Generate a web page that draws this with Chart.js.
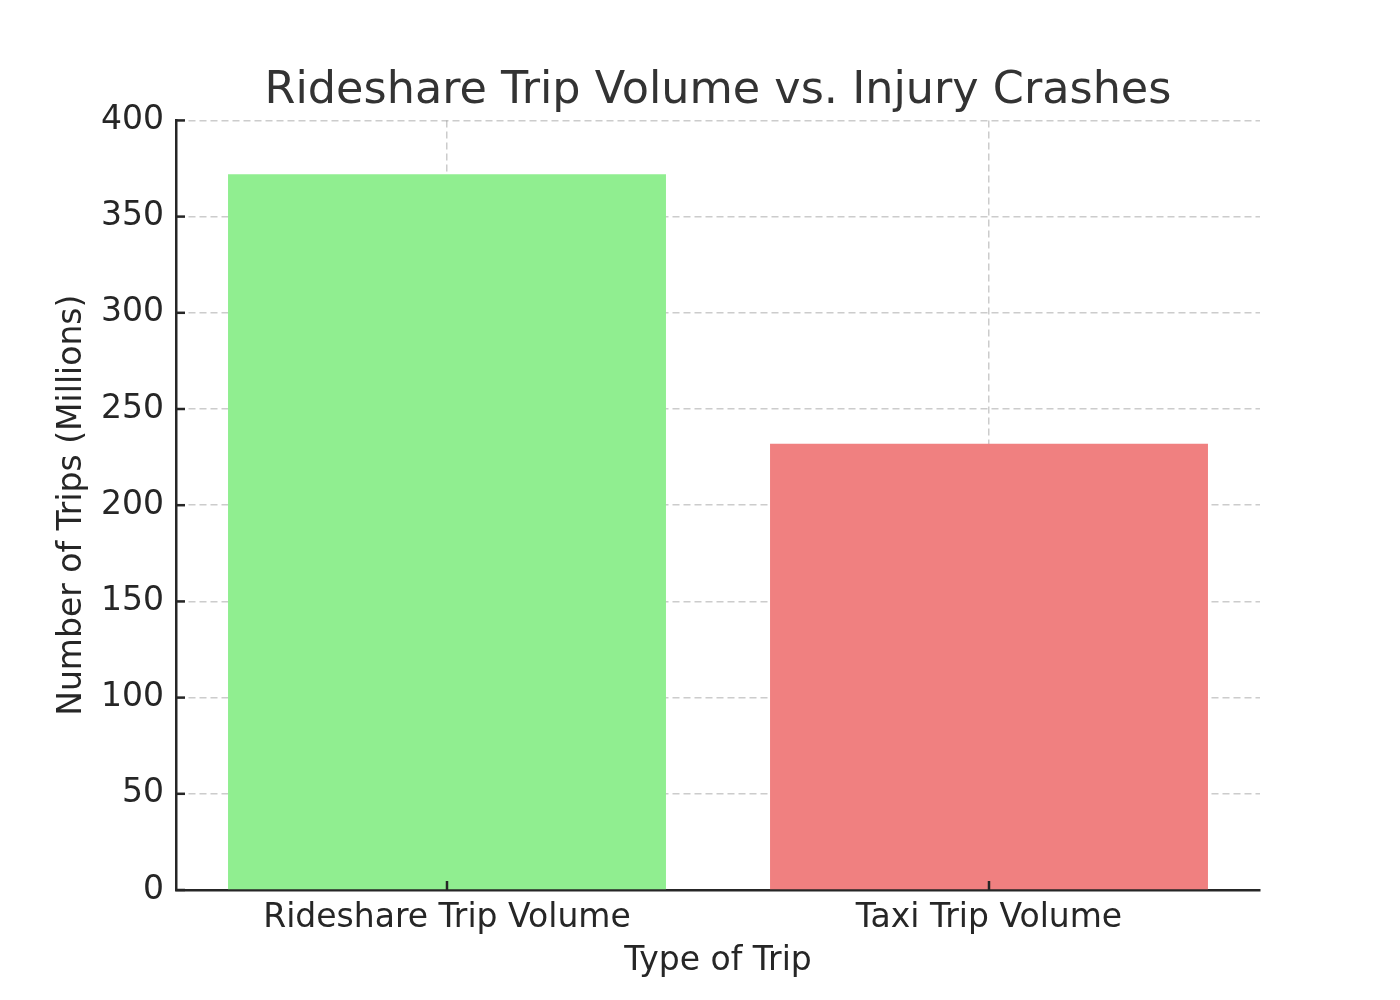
<!DOCTYPE html>
<html>
<head>
<meta charset="utf-8">
<script src="https://cdn.jsdelivr.net/npm/chart.js@4"></script>
<style>
    body { margin: 0; background: #fff; }
    #chartBox { width: 1400px; height: 1000px; }
</style>
</head>
<body>
<div id="chartBox"><canvas id="tripChart" width="1400" height="1000"></canvas></div>
<script>
// Chart data
const tripTypes = ['Rideshare Trip Volume', 'Taxi Trip Volume'];
const tripVolumes = [372, 232]; // millions
const barColors = ['#90EE90', '#F08080'];

const textColor = '#262626';
const gridColor = 'rgba(128, 128, 128, 0.4)';
const fontFamily = 'DejaVu Sans';

// Draw short tick marks pointing into the plot area (like the original)
const innerTicks = {
    id: 'innerTicks',
    afterDraw(chart) {
        const c = chart.ctx;
        const area = chart.chartArea;
        const len = 9;
        c.save();
        c.strokeStyle = textColor;
        c.lineWidth = 2.5;
        c.setLineDash([]);
        const xScale = chart.scales.x;
        xScale.ticks.forEach((t, i) => {
            const px = xScale.getPixelForTick(i);
            c.beginPath();
            c.moveTo(px, area.bottom);
            c.lineTo(px, area.bottom - len);
            c.stroke();
        });
        const yScale = chart.scales.y;
        yScale.ticks.forEach((t, i) => {
            const py = yScale.getPixelForTick(i);
            c.beginPath();
            c.moveTo(area.left, py);
            c.lineTo(area.left + len, py);
            c.stroke();
        });
        c.restore();
    }
};

const ctx = document.querySelector('#tripChart').getContext('2d');

new Chart(ctx, {
    type: 'bar',
    data: {
        labels: tripTypes,
        datasets: [{
            data: tripVolumes,
            backgroundColor: barColors,
            borderWidth: 0,
            barPercentage: 0.808,
            categoryPercentage: 1.0
        }]
    },
    options: {
        responsive: false,
        animation: false,
        devicePixelRatio: 1,
        layout: {
            padding: { left: 0, right: 140, top: 0, bottom: 0 }
        },
        plugins: {
            legend: { display: false },
            tooltip: { enabled: false },
            title: {
                display: true,
                text: 'Rideshare Trip Volume vs. Injury Crashes',
                fullSize: false,
                color: '#333333',
                font: { family: fontFamily, size: 44.5, weight: 'normal', lineHeight: 1.2 },
                padding: { top: 65, bottom: 2 }
            }
        },
        scales: {
            x: {
                z: 1,
                offset: true,
                grid: {
                    offset: false,
                    color: gridColor,
                    lineWidth: 1.5,
                    drawTicks: false
                },
                border: { display: true, color: textColor, width: 2.5, dash: [7, 4] },
                ticks: {
                    color: textColor,
                    padding: 9,
                    font: { family: fontFamily, size: 33 }
                },
                title: {
                    display: true,
                    text: 'Type of Trip',
                    color: textColor,
                    font: { family: fontFamily, size: 33, lineHeight: 1.2 },
                    padding: { top: 0, bottom: 19 }
                },
                afterFit: function (scale) {
                    scale.height = 110;
                }
            },
            y: {
                z: 1,
                min: 0,
                max: 400,
                ticks: {
                    stepSize: 50,
                    color: textColor,
                    padding: 12,
                    font: { family: fontFamily, size: 33 }
                },
                grid: {
                    color: gridColor,
                    lineWidth: 1.5,
                    drawTicks: false
                },
                border: { display: true, color: textColor, width: 2.5, dash: [7, 4] },
                title: {
                    display: true,
                    text: 'Number of Trips (Millions)',
                    color: textColor,
                    font: { family: fontFamily, size: 33, lineHeight: 1.2 },
                    padding: { top: 53, bottom: 0 }
                },
                afterFit: function (scale) {
                    scale.width = 176;
                }
            }
        }
    },
    plugins: [innerTicks]
});
</script>
</body>
</html>
